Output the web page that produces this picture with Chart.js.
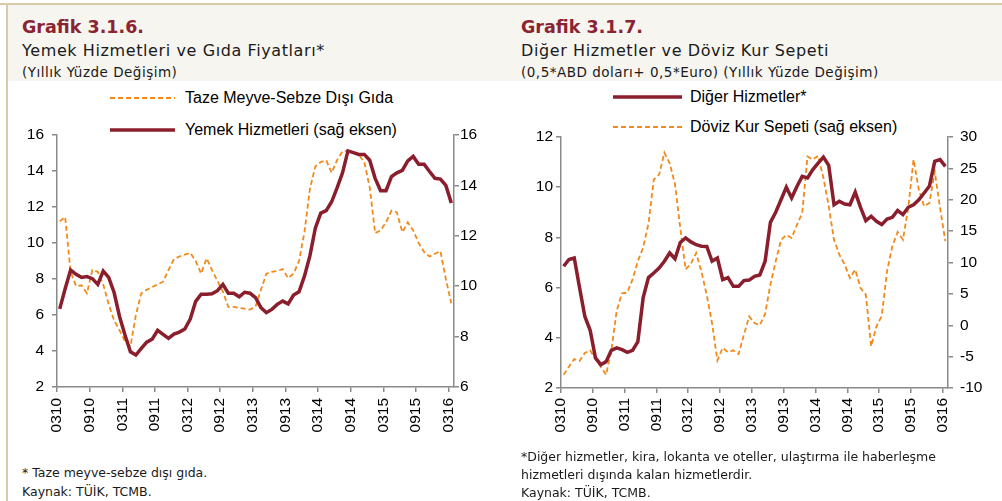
<!DOCTYPE html>
<html lang="tr">
<head>
<meta charset="UTF-8">
<title>Grafik 3.1.6 - 3.1.7</title>
<script src="https://cdn.jsdelivr.net/npm/chart.js"></script>
<style>
  body { margin: 0; width: 1002px; height: 501px; position: relative; background: #fff; overflow: hidden; }
  .abs { position: absolute; white-space: nowrap; }
  .hdr-bg { position: absolute; left: 8px; top: 5px; width: 994px; height: 76px; background: #f6f5f0; }
  .topline { position: absolute; left: 0; top: 3px; width: 1002px; height: 2px; background: #d6cbaa; }
  .leftline { position: absolute; left: 6px; top: 3px; width: 2px; height: 498px; background: #d6cbaa; }
  .ttl { font-family: "DejaVu Sans", sans-serif; font-weight: bold; font-size: 17.5px; color: #8b2332; }
  .sub { font-family: "DejaVu Sans", sans-serif; font-size: 16px; letter-spacing: 0.6px; color: #1a1a1a; }
  .sub2 { font-family: "DejaVu Sans", sans-serif; font-size: 13.5px; letter-spacing: 0.5px; color: #1a1a1a; }
  .note { font-family: "DejaVu Sans", sans-serif; font-size: 12.5px; color: #1a1a1a; }
  .leg { font-family: "Liberation Sans", Arial, sans-serif; font-size: 16px; color: #000; }
  canvas { position: absolute; }
</style>
</head>
<body>
<div class="topline"></div>
<div class="hdr-bg"></div>
<div class="leftline"></div>

<div class="abs ttl" style="left:22px; top:17px;">Grafik 3.1.6.</div>
<div class="abs sub" style="left:22px; top:41px;">Yemek Hizmetleri ve Gıda Fiyatları*</div>
<div class="abs sub2" style="left:22px; top:64px;">(Yıllık Yüzde Değişim)</div>

<div class="abs ttl" style="left:521px; top:17px;">Grafik 3.1.7.</div>
<div class="abs sub" style="left:521px; top:41px;">Diğer Hizmetler ve Döviz Kur Sepeti</div>
<div class="abs sub2" style="left:521px; top:64px;">(0,5*ABD doları+ 0,5*Euro) (Yıllık Yüzde Değişim)</div>

<!-- legends -->
<svg class="abs" style="left:108px; top:88px;" width="70" height="50">
  <line x1="2" y1="10" x2="67" y2="10" stroke="#f28a1b" stroke-width="1.8" stroke-dasharray="5,3"/>
  <line x1="2" y1="42" x2="67" y2="42" stroke="#8b1e2d" stroke-width="3.5"/>
</svg>
<div class="abs leg" style="left:185px; top:89px;">Taze Meyve-Sebze Dışı Gıda</div>
<div class="abs leg" style="left:185px; top:121px;">Yemek Hizmetleri (sağ eksen)</div>

<svg class="abs" style="left:611px; top:87px;" width="74" height="50">
  <line x1="2" y1="10" x2="71" y2="10" stroke="#8b1e2d" stroke-width="3.5"/>
  <line x1="2" y1="40" x2="71" y2="40" stroke="#f28a1b" stroke-width="1.8" stroke-dasharray="5,3"/>
</svg>
<div class="abs leg" style="left:690px; top:88px;">Diğer Hizmetler*</div>
<div class="abs leg" style="left:690px; top:118px;">Döviz Kur Sepeti (sağ eksen)</div>

<canvas id="c1" width="500" height="340" style="left:0px; top:110px;"></canvas>
<canvas id="c2" width="502" height="340" style="left:500px; top:110px;"></canvas>

<div class="abs note" style="left:22px; top:465px;">* Taze meyve-sebze dışı gıda.</div>
<div class="abs note" style="left:22px; top:484px;">Kaynak: TÜİK, TCMB.</div>
<div class="abs note" style="left:521px; top:449px;">*Diğer hizmetler, kira, lokanta ve oteller, ulaştırma ile haberleşme</div>
<div class="abs note" style="left:521px; top:467px;">hizmetleri dışında kalan hizmetlerdir.</div>
<div class="abs note" style="left:521px; top:485px;">Kaynak: TÜİK, TCMB.</div>

<script>
// months 03/2010 - 03/2016
const months = [
  '0310','0410','0510','0610','0710','0810','0910','1010','1110','1210',
  '0111','0211','0311','0411','0511','0611','0711','0811','0911','1011','1111','1211',
  '0112','0212','0312','0412','0512','0612','0712','0812','0912','1012','1112','1212',
  '0113','0213','0313','0413','0513','0613','0713','0813','0913','1013','1113','1213',
  '0114','0214','0314','0414','0514','0614','0714','0814','0914','1014','1114','1214',
  '0115','0215','0315','0415','0515','0615','0715','0815','0915','1015','1115','1215',
  '0116','0216','0316'
];

// Grafik 3.1.6
const tazeGida = [
  11.2, 11.45, 8.4, 7.6, 7.65, 7.2, 8.5, 8.4, 7.7, 6.6,
  5.7, 5.15, 4.55, 4.25, 6.0, 7.2, 7.4, 7.55, 7.7, 7.85,
  8.5, 9.1, 9.25, 9.35, 9.45, 9.0, 8.3, 9.15, 8.5, 7.9,
  7.3, 6.45, 6.45, 6.4, 6.35, 6.3, 6.45, 7.4, 8.3, 8.4,
  8.45, 8.55, 8.05, 8.3, 9.0, 10.6, 13.0, 14.25, 14.5, 14.6,
  13.9, 14.6, 15.1, 15.1, 15.0, 14.9, 14.5, 13.1, 10.55, 10.7,
  11.15, 11.8, 11.7, 10.6, 11.15, 10.7, 10.0, 9.5, 9.25, 9.4,
  9.55, 8.0, 6.65
];
const yemekHizmetleri = [
  9.1, 9.9, 10.64, 10.47, 10.35, 10.38, 10.3, 10.07, 10.6, 10.35,
  9.75, 8.8, 8.06, 7.4, 7.27, 7.53, 7.78, 7.9, 8.25, 8.09,
  7.93, 8.1, 8.18, 8.3, 8.7, 9.4, 9.68, 9.68, 9.7, 9.82,
  10.07, 9.72, 9.72, 9.58, 9.76, 9.72, 9.55, 9.15, 8.95, 9.08,
  9.28, 9.41, 9.3, 9.65, 9.78, 10.4, 11.2, 12.3, 12.9, 13.0,
  13.35, 13.9, 14.5, 15.37, 15.3, 15.23, 15.23, 15.0, 14.28, 13.79,
  13.79, 14.35, 14.5, 14.6, 14.97, 15.15, 14.84, 14.84, 14.55, 14.28,
  14.25, 14.0, 13.3
];

// Grafik 3.1.7
const digerHizmetler = [
  6.85, 7.12, 7.18, 6.0, 4.85, 4.3, 3.2, 2.93, 3.05, 3.5,
  3.6, 3.53, 3.42, 3.5, 3.85, 5.6, 6.4, 6.58, 6.78, 7.05,
  7.38, 7.15, 7.8, 7.98, 7.82, 7.71, 7.65, 7.64, 7.05, 7.18,
  6.32, 6.4, 6.05, 6.05, 6.28, 6.3, 6.45, 6.5, 7.05, 8.6,
  9.0, 9.5, 10.0, 9.57, 10.03, 10.43, 10.37, 10.7, 10.96, 11.2,
  10.87, 9.3, 9.44, 9.33, 9.3, 9.8, 9.2, 8.67, 8.84, 8.64,
  8.51, 8.73, 8.8, 9.07, 8.91, 9.2, 9.3, 9.5, 9.77, 10.05,
  11.03, 11.1, 10.83
];
const dovizKurSepeti = [
  -7.9, -6.6, -5.4, -5.7, -4.4, -4.0, -5.4, -6.6, -7.9, -4.0,
  2.3, 5.1, 5.2, 7.3, 10.2, 12.4, 16.2, 23.2, 24.0, 27.5,
  25.8, 22.5, 15.5, 8.9, 9.8, 11.5, 8.5, 4.8, 0.3, -5.6,
  -3.6, -4.3, -4.0, -4.6, -1.5, 1.4, 0.35, 0.0, 1.8, 6.5,
  10.2, 13.6, 14.4, 13.9, 16.0, 17.9, 26.9, 26.4, 27.0, 23.5,
  19.0, 13.6, 11.25, 9.66, 7.54, 8.86, 5.94, 4.88, -3.35, -0.2,
  1.5, 8.6, 12.6, 14.86, 13.64, 18.7, 26.4, 21.6, 18.95, 19.5,
  24.5, 18.7, 13.4
];

const RED = '#8b1e2d';
const ORANGE = '#f28a1b';
const AXIS = '#8a8a8a';
const tickFont = { family: 'Liberation Sans', size: 15.5 };

function xScale(pad) {
  return {
    type: 'category',
    offset: true,
    grid: {
      offset: true, drawOnChartArea: false, tickLength: 5, lineWidth: 1.5,
      color: c => (c.index % 6 === 0 ? AXIS : 'rgba(0,0,0,0)')
    },
    border: { color: AXIS, width: 1.5 },
    ticks: {
      autoSkip: false, minRotation: 90, maxRotation: 90, padding: pad, labelOffset: -2.7,
      color: '#000', font: tickFont,
      callback: (v, i) => (i % 6 === 0 ? months[i] : '')
    },
    afterFit: s => { s.height = 50; }
  };
}

function yScale(pos, min, max, step, pad, w) {
  return {
    position: pos, min: min, max: max,
    grid: { drawOnChartArea: false, tickLength: 5, color: AXIS, lineWidth: 1.5 },
    border: { color: AXIS, width: 1.5 },
    ticks: { stepSize: step, padding: pad, color: '#000', font: tickFont },
    afterFit: s => { s.width = w; }
  };
}

new Chart(document.getElementById('c1'), {
  type: 'line',
  data: {
    labels: months,
    datasets: [
      { label: 'Yemek Hizmetleri (sağ eksen)', data: yemekHizmetleri, yAxisID: 'y1',
        borderColor: RED, borderWidth: 3.5, pointRadius: 0, tension: 0 },
      { label: 'Taze Meyve-Sebze Dışı Gıda', data: tazeGida, yAxisID: 'y',
        borderColor: ORANGE, borderWidth: 1.8, borderDash: [5, 3], pointRadius: 0, tension: 0 }
    ]
  },
  options: {
    responsive: false, animation: false,
    layout: { padding: { left: 12, right: 6, top: 25, bottom: 13 } },
    plugins: { legend: { display: false }, tooltip: { enabled: false } },
    scales: {
      x: xScale(6),
      y: yScale('left', 2, 16, 2, 8, 45),
      y1: yScale('right', 6, 16, 2, 1, 40)
    }
  }
});

new Chart(document.getElementById('c2'), {
  type: 'line',
  data: {
    labels: months,
    datasets: [
      { label: 'Diğer Hizmetler*', data: digerHizmetler, yAxisID: 'y',
        borderColor: RED, borderWidth: 3.5, pointRadius: 0, tension: 0 },
      { label: 'Döviz Kur Sepeti (sağ eksen)', data: dovizKurSepeti, yAxisID: 'y1',
        borderColor: ORANGE, borderWidth: 1.8, borderDash: [5, 3], pointRadius: 0, tension: 0 }
    ]
  },
  options: {
    responsive: false, animation: false,
    layout: { padding: { left: 16, right: 9, top: 27, bottom: 12 } },
    plugins: { legend: { display: false }, tooltip: { enabled: false } },
    scales: {
      x: xScale(5),
      y: yScale('left', 2, 12, 2, 3, 45),
      y1: yScale('right', -10, 30, 5, 7, 45)
    }
  }
});
</script>
</body>
</html>
